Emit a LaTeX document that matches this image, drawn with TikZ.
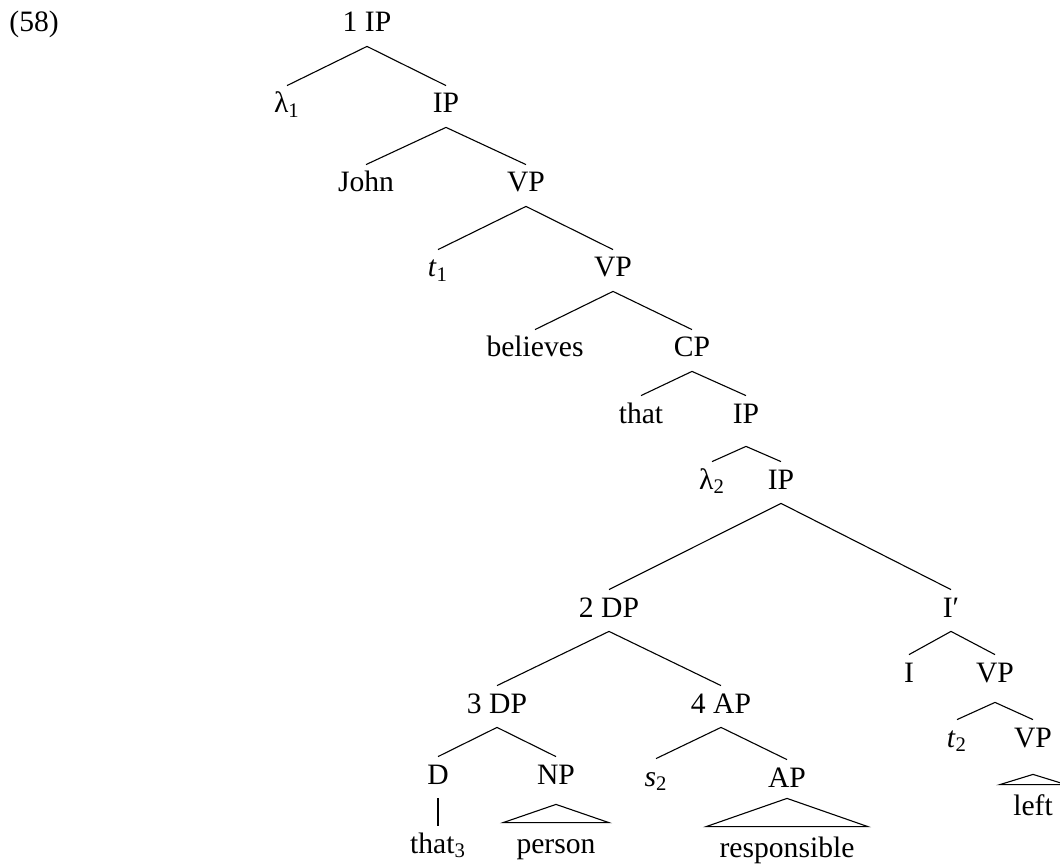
\documentclass[tikz,border=0pt]{standalone}
\usepackage{fontspec}
\setmainfont{Liberation Serif}
\begin{document}
\begin{tikzpicture}[x=0.5pt,y=-0.5pt,
  font=\fontsize{14.8pt}{18pt}\selectfont,
  lab/.style={anchor=base,inner xsep=0pt,inner ysep=0pt,text height=13.5pt,text depth=7pt},
  leaf/.style={anchor=base,inner xsep=6.5pt,inner ysep=0pt,text height=15pt,text depth=7pt},
  branch/.style={line width=0.55pt,line join=miter}]
\useasboundingbox (0,0) rectangle (1060,866);
\node[anchor=base west,inner sep=0pt] (ex) at (9,32) {(58)};
% nodes
\node[lab] (n1)   at (367,32)  {1 IP};
\node[lab] (l1)   at (287,113) {λ\textsubscript{1}};
\node[lab] (ip2)  at (446,113) {IP};
\node[lab] (john) at (366,192) {John};
\node[lab] (vp3)  at (526,192) {VP};
\node[lab] (t1)   at (438,277) {\textit{t}\textsubscript{1}};
\node[lab] (vp4)  at (613,277) {VP};
\node[lab] (bel)  at (535,357) {believes};
\node[lab] (cp)   at (692,357) {CP};
\node[lab] (that) at (641,423) {that};
\node[lab] (ip5)  at (746,423) {IP};
\node[lab] (l2)   at (712,489) {λ\textsubscript{2}};
\node[lab] (ip6)  at (781,489) {IP};
\node[lab] (dp2)  at (609,617) {2 DP};
\node[lab] (ib)   at (951,617) {I′};
\node[lab] (dp3)  at (497,713) {3 DP};
\node[lab] (ap4)  at (721,713) {4 AP};
\node[lab] (i)    at (909,682) {I};
\node[lab] (vp7)  at (995,682) {VP};
\node[lab] (d)    at (438,784) {D};
\node[lab] (np)   at (556,784) {NP};
\node[lab] (s2)   at (656,786) {\textit{s}\textsubscript{2}};
\node[lab] (ap)   at (787,787) {AP};
\node[lab] (t2)   at (957,747) {\textit{t}\textsubscript{2}};
\node[lab] (vp8)  at (1033,747) {VP};
\node[lab] (that3) at (438,853) {that\textsubscript{3}};
\node[leaf] (person) at (556,853) {person};
\node[leaf] (resp)   at (787,857) {responsible};
\node[leaf] (left)   at (1033,815) {left};
% branches
\draw[branch] (l1.north) -- (n1.south) -- (ip2.north);
\draw[branch] (john.north) -- (ip2.south) -- (vp3.north);
\draw[branch] (t1.north) -- (vp3.south) -- (vp4.north);
\draw[branch] (bel.north) -- (vp4.south) -- (cp.north);
\draw[branch] (that.north) -- (cp.south) -- (ip5.north);
\draw[branch] (l2.north) -- ([yshift=-4.5pt]ip5.south) -- (ip6.north);
\draw[branch] (dp2.north) -- (ip6.south) -- (ib.north);
\draw[branch] (dp3.north) -- (dp2.south) -- (ap4.north);
\draw[branch] (d.north) -- (dp3.south) -- (np.north);
\draw[branch] (s2.north) -- (ap4.south) -- (ap.north);
\draw[branch] (i.north) -- (ib.south) -- (vp7.north);
\draw[branch] (t2.north) -- ([yshift=-3pt]vp7.south) -- (vp8.north);
\draw[branch] (d.south) -- (that3.north);
% triangles
\draw[branch] ([yshift=-3pt]np.south) -- (person.north west) -- (person.north east) -- cycle;
\draw[branch] ([yshift=1.5pt]ap.south) -- (resp.north west) -- (resp.north east) -- cycle;
\draw[branch] ([yshift=-6.5pt]vp8.south) -- (left.north west) -- (left.north east) -- cycle;
\end{tikzpicture}
\end{document}
